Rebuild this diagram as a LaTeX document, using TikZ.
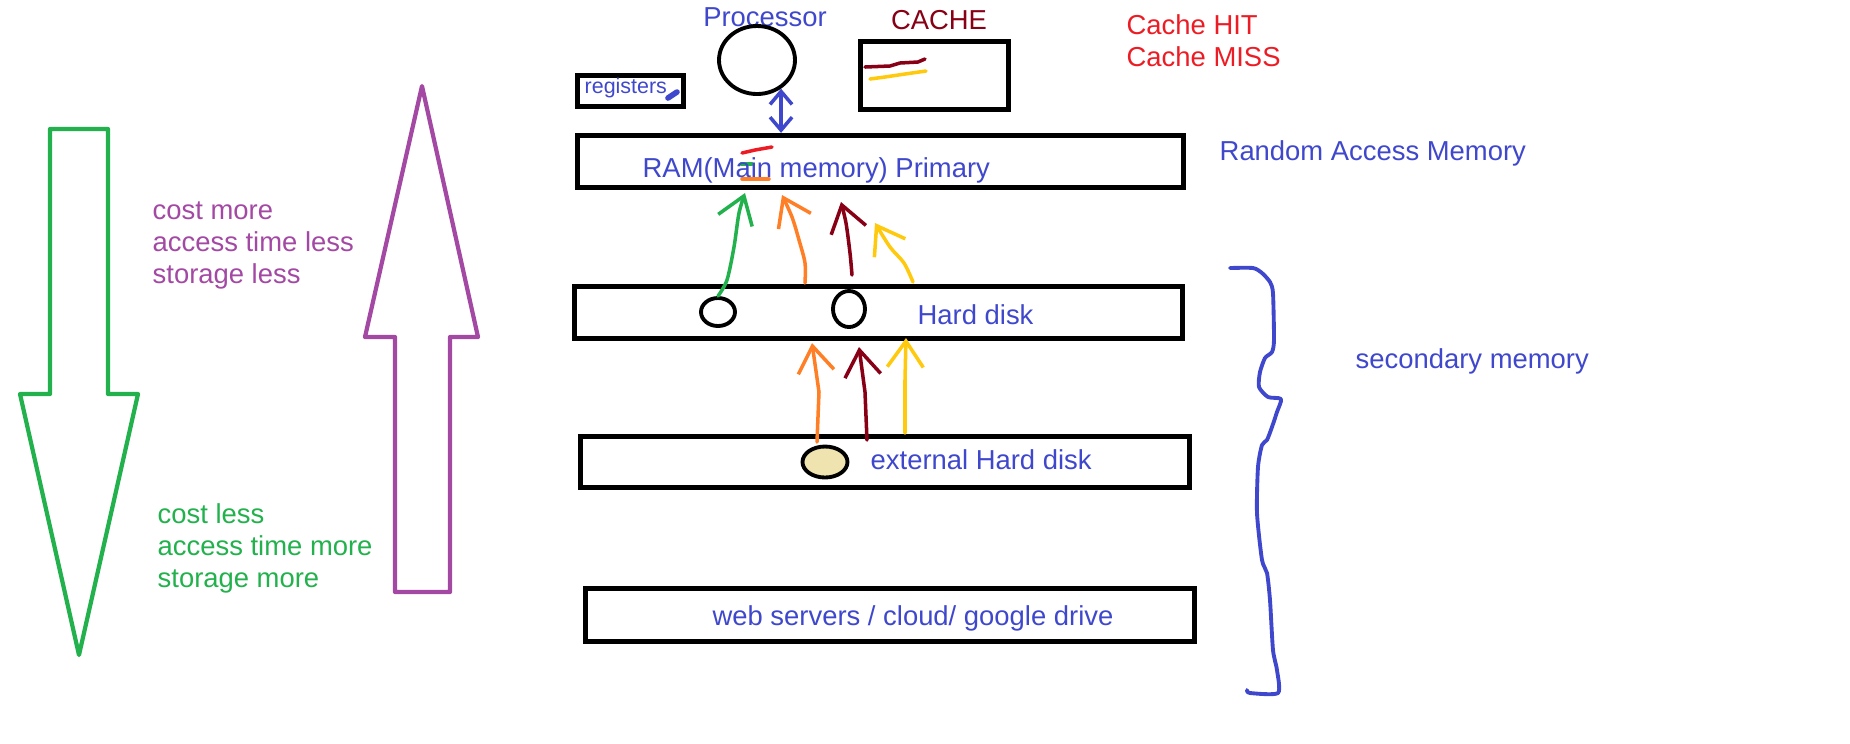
\documentclass[tikz,border=0pt]{standalone}
\usepackage{fontspec}
\setmainfont{Liberation Sans}
\usepackage{tikz}
\usetikzlibrary{arrows.meta,shapes.geometric}

\definecolor{pblue}{RGB}{63,72,204}
\definecolor{pred}{RGB}{237,28,36}
\definecolor{pdarkred}{RGB}{136,0,21}
\definecolor{porange}{RGB}{255,127,39}
\definecolor{pyellow}{RGB}{255,201,14}
\definecolor{pgreen}{RGB}{34,177,76}
\definecolor{ppurple}{RGB}{163,73,164}
\definecolor{ptan}{RGB}{239,228,176}

\begin{document}
\begin{tikzpicture}[x=0.1mm, y=-0.1mm,
	every node/.style={font=\fontsize{7.8}{9.1}\selectfont, inner sep=0pt},
	slab/.style={draw, line width=1.5pt, minimum height=5.2mm},
	disk/.style={draw, ellipse, line width=1.1pt},
	pen/.style={line width=1pt, line cap=round, line join=round},
	>={Straight Barb[length=2.6mm, width=3.6mm]}]
	\useasboundingbox (0,0) rectangle (1850,743);
	\draw[pgreen, line width=1.2pt, line join=round] (50,129) -- (108,129) -- (108,394) -- (138,394) -- (79,655) -- (20,394) -- (50,394) -- cycle;
	\draw[ppurple, line width=1.2pt, line join=round] (395,592) -- (395,337) -- (365,337) -- (422,86) -- (478,337) -- (450,337) -- (450,592) -- cycle;
	\node[ppurple, anchor=west, align=left] (fastlbl) at (152,245) {cost more\\access time less\\storage less};
	\node[pgreen, anchor=west, align=left] (slowlbl) at (157,548) {cost less\\access time more\\storage more};

	\node[pblue] (cpulbl) at (765,17) {Processor};
	\node[disk, minimum width=7.6mm, minimum height=6.8mm] (cpu) at (757,60) {};
	\node[draw, line width=1.5pt, minimum width=10.6mm, minimum height=3.1mm] (regs) at (630.5,91) {};
	\node[pblue, anchor=west, font=\fontsize{6.1}{7}\selectfont] (regslbl) at (584,88) {registers};
	\draw[pblue, line width=1.6pt, line cap=round] (668,98) -- (677,92);
	\node[pdarkred] (cachelbl) at (939,20) {CACHE};
	\node[draw, line width=1.5pt, minimum width=14.8mm, minimum height=6.8mm] (cache) at (934.5,75.5) {};
	\draw[pen, pdarkred] (865,67) -- (890,66) -- (900,63) -- (918,62) -- (925,59);
	\draw[pen, pyellow] (870,79) -- (885,77) -- (905,74) -- (926,71);
	\node[pred, anchor=west, align=left] (hitmiss) at (1126,41) {Cache HIT\\Cache MISS};

	\node[slab, minimum width=60.6mm] (ram) at (880.5,161.5) {};
	\node[slab, minimum width=60.8mm] (hdd) at (878.5,312.5) {};
	\node[slab, minimum width=60.9mm, minimum height=5.1mm] (ext) at (885,462) {};
	\node[slab, minimum width=60.9mm, minimum height=5.3mm] (web) at (890,615) {};

	\draw[pen, pred] (742,153) -- (755,150) -- (772,147);
	\draw[pen, pgreen] (741,164) -- (752,164);
	\draw[pen, porange] (742,179) -- (769,179);
	\node[pblue, anchor=west] (ramlbl) at (642,170) {RAM(Main memory) Primary};
	\node[pblue, anchor=west] (ramnote) at (1219,153) {Random Access Memory};
	\draw[pen, pblue, <->, >={Straight Barb[length=1.3mm, width=2.2mm]}] (cpu.-50) -- (cpu.-50 |- ram.north);

	\node[disk, minimum width=3.4mm, minimum height=2.8mm] (hdA) at (718,312) {};
	\node[disk, minimum width=3.2mm, minimum height=3.6mm] (hdB) at (849,309) {};
	\node[pblue, anchor=west] (hddlbl) at (917,315) {Hard disk};
	\node[disk, fill=ptan, minimum width=4.5mm, minimum height=3.1mm] (extA) at (825,462) {};
	\node[pblue, anchor=west] (extlbl) at (870,460) {external Hard disk};
	\node[pblue] (weblbl) at (913,618) {web servers / cloud/ google drive};

	\draw[pen, pgreen, ->] plot[smooth] coordinates {(hdA.north) (727,280) (734,247) (739,213) (745,193)};
	\draw[pen, porange, ->] plot[smooth] coordinates {(805,283) (805,263) (799,240) (792,217) (782,195)};
	\draw[pen, pdarkred, ->] plot[smooth] coordinates {(852,275) (850,253) (846,223) (841,202)};
	\draw[pen, pyellow, ->] plot[smooth] coordinates {(913,282) (904,263) (890,247) (875,223)};
	\foreach \col/\xa/\ya/\xm/\ym/\xb/\yb in {porange/817/442/819/392/812/343, pdarkred/867/440/865/392/859/347, pyellow/905/433/905/380/906/338}
		\draw[pen, \col, ->] (\xa,\ya) -- (\xm,\ym) -- (\xb,\yb);

	\draw[pblue, line width=1.1pt, line cap=round, line join=round] plot[smooth, tension=0.4] coordinates {(1230,268) (1253,268) (1262,273) (1270,282) (1273,293) (1274,340) (1272,352) (1265,358) (1260,372) (1259,387) (1268,397) (1281,399) (1277,412) (1272,427) (1267,440) (1262,445) (1258,467) (1257,513) (1262,560) (1267,573) (1270,600) (1273,650) (1277,670) (1278,693) (1250,693) (1247,690)};
	\node[pblue, anchor=west] (seclbl) at (1355,361) {secondary memory};
\end{tikzpicture}
\end{document}
